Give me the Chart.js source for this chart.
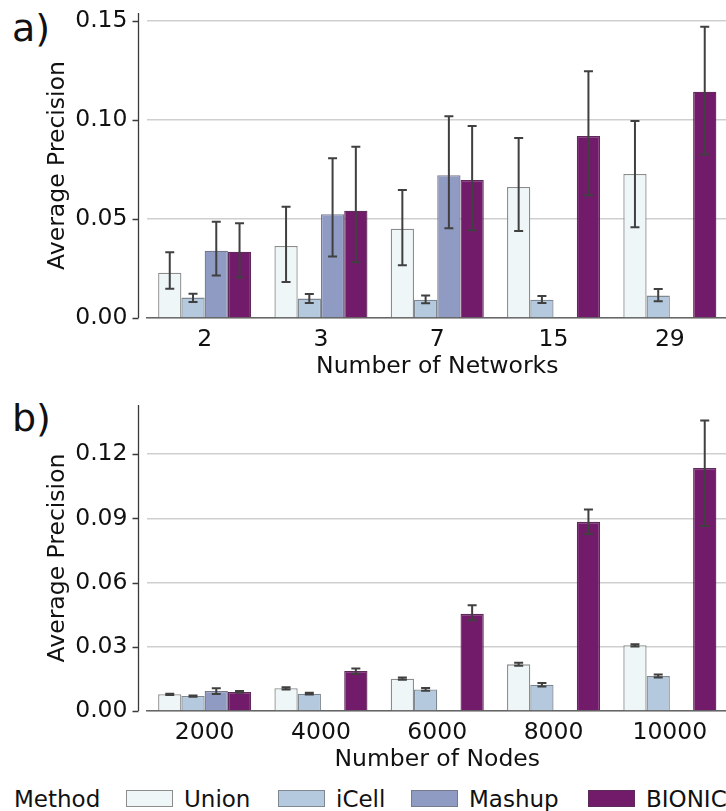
<!DOCTYPE html>
<html>
<head>
<meta charset="utf-8">
<script src="https://cdn.jsdelivr.net/npm/chart.js@4"></script>
<style>
  body { margin: 0; width: 726px; height: 811px; overflow: hidden; background: #fff; font-family: "DejaVu Sans", sans-serif; position: relative; }
  .panel { position: absolute; left: 0; width: 740px; }
  .tag { position: absolute; left: 12px; font-size: 38px; color: #111; line-height: 1; }
  #legend { position: absolute; left: 0; top: 785px; height: 26px; width: 740px; font-size: 23px; color: #111; }
  #legend span { position: absolute; top: 1px; white-space: nowrap; }
  #legend i { position: absolute; top: 5px; width: 45px; height: 15px; border: 1px solid #888; }
</style>
</head>
<body>
<div class="tag" style="top:9px">a)</div>
<div class="tag" style="top:399px">b)</div>
<div class="panel" style="top:0;height:390px"><canvas id="chartA" width="740" height="390"></canvas></div>
<div class="panel" style="top:390px;height:393px"><canvas id="chartB" width="740" height="393"></canvas></div>
<div id="legend"></div>
<script>
const methods = ["Union", "iCell", "Mashup", "BIONIC"];
const colors = ["#eef6f8", "#b4c9dd", "#8f9bc2", "#721b6b"];
const edges = ["#8c8c8c", "#7f8890", "#757a8c", "#5e2a5a"];

// panel a: number of networks
const networks = ["2", "3", "7", "15", "29"];
const unionA = [0.0229, 0.0364, 0.0451, 0.0662, 0.0727];
const icellA = [0.0103, 0.0098, 0.0092, 0.0092, 0.0113];
const mashupA = [0.0340, 0.0524, 0.0721, null, null];
const bionicA = [0.0335, 0.0542, 0.0697, 0.0919, 0.1143];
const unionALo = [0.0148, 0.0182, 0.0266, 0.0439, 0.0458];
const unionAHi = [0.0332, 0.0562, 0.0646, 0.0909, 0.0995];
const icellALo = [0.0081, 0.0076, 0.0074, 0.0076, 0.0084];
const icellAHi = [0.0123, 0.0121, 0.0113, 0.0111, 0.0146];
const mashupALo = [0.0214, 0.0310, 0.0453, null, null];
const mashupAHi = [0.0486, 0.0807, 0.1019, null, null];
const bionicALo = [0.0204, 0.0281, 0.0443, 0.0620, 0.0825];
const bionicAHi = [0.0478, 0.0865, 0.0970, 0.1246, 0.1471];

// panel b: number of nodes
const nodes = ["2000", "4000", "6000", "8000", "10000"];
const unionB = [0.0078, 0.0106, 0.0151, 0.0218, 0.0307];
const icellB = [0.0070, 0.0081, 0.0101, 0.0123, 0.0163];
const mashupB = [0.0093, null, null, null, null];
const bionicB = [0.0089, 0.0187, 0.0454, 0.0884, 0.1136];
const unionBLo = [0.0075, 0.0101, 0.0146, 0.0211, 0.0302];
const unionBHi = [0.0081, 0.0111, 0.0156, 0.0225, 0.0312];
const icellBLo = [0.0067, 0.0077, 0.0095, 0.0115, 0.0156];
const icellBHi = [0.0073, 0.0085, 0.0107, 0.0131, 0.0170];
const mashupBLo = [0.0079, null, null, null, null];
const mashupBHi = [0.0106, null, null, null, null];
const bionicBLo = [0.0085, 0.0174, 0.0424, 0.0827, 0.0864];
const bionicBHi = [0.0093, 0.0199, 0.0494, 0.0942, 0.1357];

const FONT = { family: "DejaVu Sans", size: 23.5 };

// seaborn-style y spine pulled 8px off the plot area, with small tick marks
const offsetSpine = {
  id: "offsetSpine",
  afterDraw(chart) {
    const { ctx, chartArea, scales } = chart;
    const y = scales.y;
    const x = chartArea.left - 8;
    ctx.save();
    ctx.strokeStyle = "#3a3a3a";
    ctx.lineWidth = 1.3;
    ctx.beginPath();
    ctx.moveTo(x, chartArea.top);
    ctx.lineTo(x, chartArea.bottom);
    for (const t of y.ticks) {
      const py = Math.round(y.getPixelForValue(t.value)) + 0.5;
      ctx.moveTo(x - 6, py);
      ctx.lineTo(x, py);
    }
    ctx.stroke();
    ctx.restore();
  }
};

const errorBars = {
  id: "errorBars",
  afterDatasetsDraw(chart) {
    const { ctx, scales } = chart;
    const y = scales.y;
    ctx.save();
    ctx.strokeStyle = "#404040";
    ctx.lineWidth = 2;
    chart.data.datasets.forEach((ds, i) => {
      const meta = chart.getDatasetMeta(i);
      ds.lo.forEach((lo, j) => {
        const hi = ds.hi[j];
        if (lo == null || hi == null) return;
        const bar = meta.data[j];
        const x = bar.x;
        const y1 = y.getPixelForValue(lo);
        const y2 = y.getPixelForValue(hi);
        ctx.beginPath();
        ctx.moveTo(x, y1); ctx.lineTo(x, y2);
        ctx.moveTo(x - 4.5, y1); ctx.lineTo(x + 4.5, y1);
        ctx.moveTo(x - 4.5, y2); ctx.lineTo(x + 4.5, y2);
        ctx.stroke();
      });
    });
    ctx.restore();
  }
};

function makeDatasets(values, los, his) {
  return methods.map((m, i) => ({
    label: m,
    data: values[i],
    lo: los[i],
    hi: his[i],
    backgroundColor: colors[i],
    borderColor: edges[i],
    borderWidth: 1.3,
    borderSkipped: "bottom",
    categoryPercentage: 0.8,
    barPercentage: 1.0
  }));
}

function makeChart(id, labels, datasets, xTitle, yMax, step, topPad) {
  return new Chart(document.getElementById(id).getContext("2d"), {
    type: "bar",
    data: { labels, datasets },
    options: {
      responsive: false,
      animation: false,
      layout: { padding: { top: topPad, right: 12, bottom: 0, left: 0 } },
      plugins: { legend: { display: false }, tooltip: { enabled: false } },
      scales: {
        x: {
          grid: { display: false, drawTicks: false },
          border: { display: true, color: "#666666", width: 1.5 },
          ticks: { color: "#111", font: FONT, padding: 8, maxRotation: 0 },
          title: { display: true, text: xTitle, color: "#111", font: FONT, padding: { top: 0, bottom: 9 } },
          afterFit: (s) => { s.height = 72; s.paddingLeft = 0; s.paddingRight = 0; }
        },
        y: {
          min: 0,
          max: yMax,
          bounds: "data",
          grid: { color: "#cfcfcf", lineWidth: 1.5, drawTicks: false },
          border: { display: false },
          ticks: {
            stepSize: step,
            includeBounds: false,
            color: "#111",
            font: FONT,
            padding: 19,
            callback: (v) => Number(v).toFixed(2)
          },
          title: { display: true, text: "Average Precision", color: "#111", font: FONT, padding: { top: 44, bottom: 0 } },
          afterFit: (s) => { s.width = 146.5; s.paddingTop = 0; s.paddingBottom = 0; }
        }
      }
    },
    plugins: [errorBars, offsetSpine]
  });
}

makeChart("chartA", networks,
  makeDatasets([unionA, icellA, mashupA, bionicA],
    [unionALo, icellALo, mashupALo, bionicALo],
    [unionAHi, icellAHi, mashupAHi, bionicAHi]),
  "Number of Networks", 0.154, 0.05, 13);

makeChart("chartB", nodes,
  makeDatasets([unionB, icellB, mashupB, bionicB],
    [unionBLo, icellBLo, mashupBLo, bionicBLo],
    [unionBHi, icellBHi, mashupBHi, bionicBHi]),
  "Number of Nodes", 0.143, 0.03, 15);

// legend row along the bottom, same colours as the bars
const legend = document.getElementById("legend");
const boxX = [126, 278, 411, 588];
legend.innerHTML = '<span style="left:14px">Method</span>' + methods.map((m, i) =>
  `<i style="left:${boxX[i]}px;background:${colors[i]};border-color:${edges[i]}"></i>` +
  `<span style="left:${boxX[i] + 58}px">${m}</span>`).join("");
</script>
</body>
</html>
